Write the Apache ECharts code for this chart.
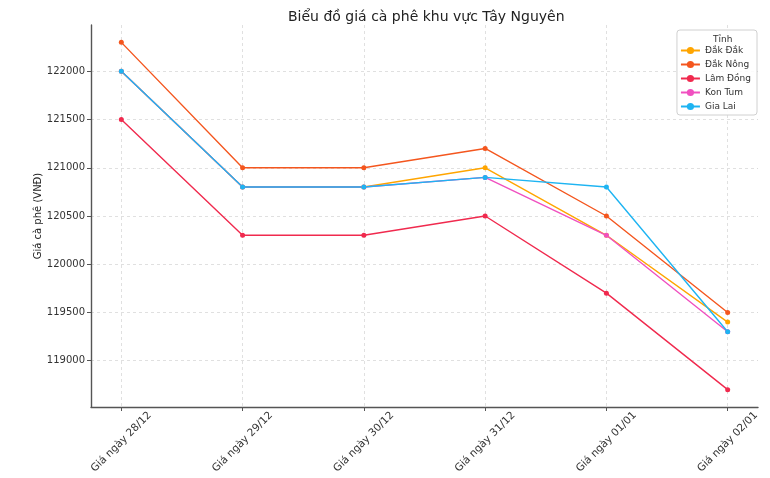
<!DOCTYPE html>
<html><head><meta charset="utf-8">
<script src="https://cdn.jsdelivr.net/npm/echarts@6/dist/echarts.min.js"></script>
<style>html,body{margin:0;padding:0;background:#fff}#c{width:770px;height:478px}</style>
</head><body><div id="c"></div>
<script>
const categories = ['Giá ngày 28/12','Giá ngày 29/12','Giá ngày 30/12','Giá ngày 31/12','Giá ngày 01/01','Giá ngày 02/01'];
const seriesNames = ['Đắk Đắk','Đắk Nông','Lâm Đồng','Kon Tum','Gia Lai'];
const dakDak   = [122000,120800,120800,121000,120300,119400];
const dakNong  = [122300,121000,121000,121200,120500,119500];
const lamDong  = [121500,120300,120300,120500,119700,118700];
const konTum   = [122000,120800,120800,120900,120300,119300];
const giaLai   = [122000,120800,120800,120900,120800,119300];
const yTicks = [119000,119500,120000,120500,121000,121500,122000];
const colors = ['#FFA500','#F4561E','#F02A4E','#F050C0','#1EB4F2'];
const values = [dakDak, dakNong, lamDong, konTum, giaLai];
const xIdx = categories.map((_, i) => i);
const font = 'DejaVu Sans';

const chart = echarts.init(document.getElementById('c'), null, {renderer:'canvas'});
chart.setOption({
  animation:false,
  backgroundColor:'#fff',
  title:[{
    text:'Biểu đồ giá cà phê khu vực Tây Nguyên',
    left:283, top:5,
    textStyle:{fontFamily:font, fontSize:14, fontWeight:'normal', color:'#222'}
  },{
    text:'Tỉnh', left:708, top:30,
    textStyle:{fontFamily:font, fontSize:9, fontWeight:'normal', color:'#333'}
  }],
  legend:{
    data:seriesNames,
    orient:'vertical', right:13, top:30,
    padding:[16,6,4,3],
    itemGap:5, itemWidth:19, itemHeight:9,
    backgroundColor:'rgba(255,255,255,0.85)',
    borderColor:'#d0d0d0', borderWidth:1, borderRadius:3,
    textStyle:{fontFamily:font, fontSize:9, color:'#333'}
  },
  grid:{left:91, right:12, top:25, bottom:71},
  xAxis:{
    type:'value', min:-0.25, max:5.25,
    axisLine:{show:true, onZero:false, lineStyle:{color:'#555', width:1.4}},
    axisTick:{show:true, customValues:xIdx, length:4, lineStyle:{color:'#555'}},
    axisLabel:{customValues:xIdx, rotate:45, align:'center', verticalAlign:'middle',
      fontFamily:font, fontSize:10.5, color:'#333', margin:35,
      formatter:v => categories[Math.round(v)]},
    splitLine:{show:true, lineStyle:{color:'#d9d9d9', type:[3,3], width:0.8}}
  },
  yAxis:{
    type:'value', min:118520, max:122480,
    name:'Giá cà phê (VNĐ)', nameLocation:'middle', nameGap:48, nameMoveOverlap:false,
    nameTextStyle:{fontFamily:font, fontSize:10, color:'#222'},
    axisLine:{show:true, onZero:false, lineStyle:{color:'#555', width:1.4}},
    axisTick:{show:true, customValues:yTicks, length:4, lineStyle:{color:'#555'}},
    axisLabel:{customValues:yTicks, fontFamily:font, fontSize:10, color:'#333', margin:6,
      formatter:v => String(v)},
    splitLine:{show:true, lineStyle:{color:'#d9d9d9', type:[3,3], width:0.8}}
  },
  series: seriesNames.map((n, k) => ({
    name:n, type:'line',
    data: values[k].map((v, i) => [xIdx[i], v]),
    symbol:'circle', symbolSize:5,
    itemStyle:{color:colors[k]},
    lineStyle:{color:colors[k], width:1.4}
  }))
});
</script></body></html>
